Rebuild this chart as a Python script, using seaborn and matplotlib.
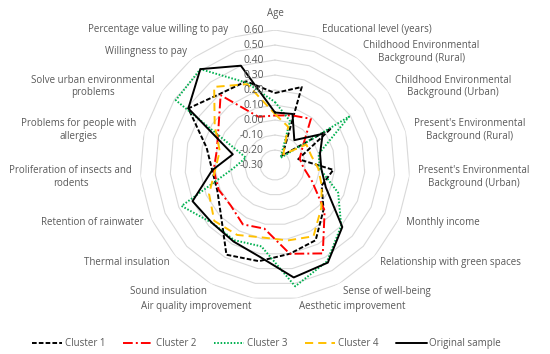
import numpy as np
import pandas as pd
import matplotlib
matplotlib.use('Agg')
import matplotlib.pyplot as plt
import seaborn as sns

# Radar chart data
categories = ['Age', 'Educational level (years)',
              'Childhood Environmental\nBackground (Rural)',
              'Childhood Environmental\nBackground (Urban)',
              "Present's Environmental\nBackground (Rural)",
              "Present's Environmental\nBackground (Urban)",
              'Monthly income', 'Relationship with green spaces',
              'Sense of well-being', 'Aesthetic improvement',
              'Air quality improvement', 'Sound insulation',
              'Thermal insulation', 'Retention of rainwater',
              'Proliferation of insects and\nrodents',
              'Problems for people with\nallergies',
              'Solve urban environmental\nproblems',
              'Willingness to pay', 'Percentage value willing to pay']

cluster1 = [0.18, 0.25, -0.22, 0.15, -0.14, 0.09, 0.04, 0.14, 0.27, 0.30,
            0.35, 0.38, 0.19, 0.12, 0.12, 0.17, 0.39, 0.30, 0.29]
cluster2 = [0.03, 0.05, 0.09, -0.08, -0.13, -0.11, -0.03, 0.15, 0.37, 0.30,
            0.13, 0.15, 0.10, 0.11, 0.11, 0.10, 0.15, 0.29, 0.04]
cluster3 = [0.12, 0.01, -0.24, 0.29, 0.00, 0.00, 0.16, 0.30, 0.43, 0.52,
            0.25, 0.27, 0.27, 0.38, -0.02, -0.10, 0.49, 0.51, 0.28]
cluster4 = [0.04, -0.03, -0.21, -0.05, -0.05, -0.01, 0.04, 0.12, 0.24, 0.21,
            0.19, 0.23, 0.25, 0.18, 0.10, 0.08, 0.18, 0.36, 0.27]
original = [0.05, 0.06, -0.09, 0.08, 0.01, 0.01, 0.07, 0.31, 0.44, 0.46,
            0.32, 0.28, 0.27, 0.30, 0.12, -0.01, 0.39, 0.51, 0.40]

series_names = ['Cluster 1', 'Cluster 2', 'Cluster 3', 'Cluster 4', 'Original sample']
tick_vals = [-0.30, -0.20, -0.10, 0.00, 0.10, 0.20, 0.30, 0.40, 0.50, 0.60]

colors = {'Cluster 1': 'black', 'Cluster 2': '#FF0000', 'Cluster 3': '#00B050',
          'Cluster 4': '#FFC000', 'Original sample': 'black'}
dashes = {'Cluster 1': (2.4, 1.1), 'Cluster 2': (5, 1.6, 1, 1.6),
          'Cluster 3': (0.8, 0.9), 'Cluster 4': (4.2, 2.6), 'Original sample': ''}

sns.set_theme(style='white')
plt.rcParams['font.family'] = ['Open Sans', 'DejaVu Sans']
txt_color = '#595959'
fs = 7

n = len(categories)
theta = np.linspace(0, 2 * np.pi, n, endpoint=False)
theta_closed = np.append(theta, 2 * np.pi)

rows = []
for name, vals in zip(series_names, [cluster1, cluster2, cluster3, cluster4, original]):
    for t, v in zip(theta_closed, vals + vals[:1]):
        rows.append({'theta': t, 'value': v, 'series': name})
df = pd.DataFrame(rows)

fig = plt.figure(figsize=(5.5, 3.54), dpi=100)
ax = fig.add_axes([0.2545, 0.1525, 0.4909, 0.7627], projection='polar')
ax.set_theta_zero_location('N')
ax.set_theta_direction(-1)
ax.grid(False)
ax.spines['polar'].set_visible(False)

# polygon gridlines
for lv in tick_vals[1:]:
    ax.plot(theta_closed, [lv] * len(theta_closed), color='#d9d9d9', lw=0.8, zorder=1)

sns.lineplot(data=df, x='theta', y='value', hue='series', style='series',
             palette=colors, dashes=dashes, sort=False, estimator=None,
             linewidth=1.4, ax=ax, legend=True, zorder=3)

ax.set_ylim(-0.3, 0.6)
ax.set_xticks([])
ax.set_yticks([])
ax.set_xlabel('')
ax.set_ylabel('')

# radial tick labels along the vertical axis
for lv in tick_vals:
    ax.annotate(f'{lv:.2f}', xy=(0, lv), xytext=(-8, 0), textcoords='offset points',
                ha='right', va='center', fontsize=7.5, color=txt_color)

# category labels
for t, lab in zip(theta, categories):
    s, c = np.sin(t), np.cos(t)
    pad = 12 if abs(t) < 1e-6 else 6
    if s > 0.05:
        ha = 'left'
    elif s < -0.05:
        ha = 'right'
    else:
        ha = 'center'
    ax.annotate(lab, xy=(t, 0.6), xytext=(s * pad, c * pad), textcoords='offset points',
                ha=ha, va='center', multialignment='center', fontsize=fs,
                color=txt_color, annotation_clip=False)

handles, labels = ax.get_legend_handles_labels()
ax.legend_.remove()
fig.legend(handles, labels, loc='lower center', bbox_to_anchor=(0.485, -0.012), ncol=5,
           frameon=False, fontsize=fs, handlelength=3.1, columnspacing=1.8,
           handletextpad=0.3, labelcolor=txt_color)

fig.savefig('out.png', dpi=100)
